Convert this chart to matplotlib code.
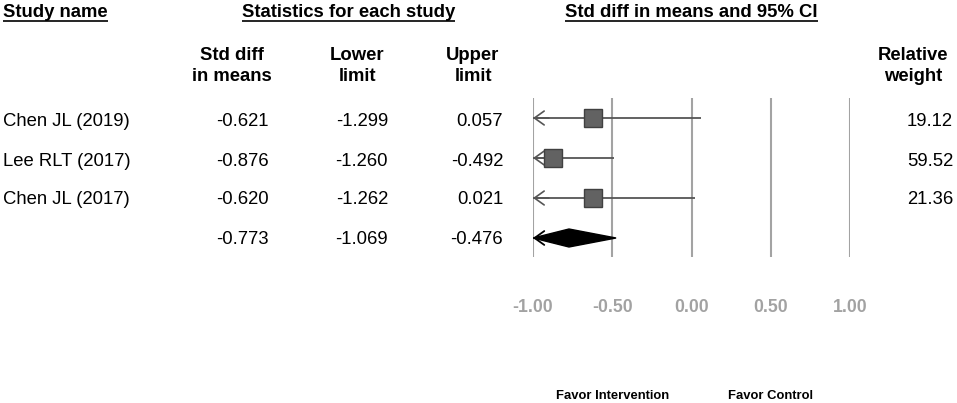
import matplotlib
matplotlib.use('Agg')
import matplotlib.pyplot as plt
from matplotlib.patches import Polygon

plt.rcParams['font.family'] = ['Liberation Sans', 'DejaVu Sans']

# data
studies = ['Chen JL (2019)', 'Lee RLT (2017)', 'Chen JL (2017)']
smd = [-0.621, -0.876, -0.620]
lower = [-1.299, -1.260, -1.262]
upper = [0.057, -0.492, 0.021]
weights = [19.12, 59.52, 21.36]
pooled = -0.773
pooled_lo = -1.069
pooled_hi = -0.476
ticks = [-1.0, -0.5, 0.0, 0.5, 1.0]

W, H = 957, 403
fig = plt.figure(figsize=(W / 100, H / 100), dpi=100)

# table area in pixel units
tab = fig.add_axes([0, 0, 1, 1])
tab.set_xlim(0, W)
tab.set_ylim(H, 0)
tab.axis('off')

# forest plot area
px0, px1 = 533, 850
py0, py1 = 98, 257
ax = fig.add_axes([px0 / W, 1 - py1 / H, (px1 - px0) / W, (py1 - py0) / H])
ax.set_xlim(-1, 1)
ax.set_ylim(3.475, -0.5)
ax.patch.set_alpha(0)
for s in ax.spines.values():
    s.set_visible(False)
ax.set_xticks([])
ax.set_yticks([])

for t in ticks:
    ax.axvline(t, color='#a3a3a3', lw=1.5, zorder=0)
    ax.text(t, (py1 - 312) / (py1 - py0), '%.2f' % t, transform=ax.get_xaxis_transform(),
            ha='center', va='baseline', fontsize=12.7, fontweight='bold', color='#a2a2a2')

arrow = '->,head_length=0.7,head_width=0.5'
for i in range(len(studies)):
    lo = max(lower[i], -1)
    ax.plot([lo, upper[i]], [i, i], color='#555555', lw=1.3, solid_capstyle='butt', zorder=2)
    if lower[i] < -1:
        ax.annotate('', xy=(-1, i), xytext=(-0.9, i),
                    arrowprops=dict(arrowstyle=arrow, color='#555555', lw=1.2,
                                    shrinkA=0, shrinkB=0, mutation_scale=10), zorder=2)
    ax.plot(smd[i], i, marker='s', ms=13, mfc='#626262', mec='#404040', mew=1, zorder=3)

r = len(studies)
h = 0.225
dia = Polygon([(max(pooled_lo, -1), r), (pooled, r - h), (pooled_hi, r), (pooled, r + h)],
              closed=True, fc='black', ec='black', lw=1, zorder=3)
ax.add_patch(dia)
if pooled_lo < -1:
    ax.annotate('', xy=(-1, r), xytext=(-0.9, r),
                arrowprops=dict(arrowstyle=arrow, color='black', lw=1.3,
                                shrinkA=0, shrinkB=0, mutation_scale=10), zorder=3)

for x, lab in zip([-0.5, 0.5], ['Favor Intervention', 'Favor Control']):
    ax.text(x, (py1 - 399) / (py1 - py0), lab, transform=ax.get_xaxis_transform(),
            ha='center', va='baseline', fontsize=9.4, fontweight='bold', color='black')

# headers
fs = 13.3
heads = []
heads.append(tab.text(3, 16.7, 'Study name', fontsize=fs, fontweight='bold', va='baseline'))
heads.append(tab.text(348.5, 16.7, 'Statistics for each study', fontsize=fs, fontweight='bold',
                      ha='center', va='baseline'))
heads.append(tab.text(691.5, 16.7, 'Std diff in means and 95% CI', fontsize=fs, fontweight='bold',
                      ha='center', va='baseline'))

col_heads = [('Std diff', 'in means', 232), ('Lower', 'limit', 357),
             ('Upper', 'limit', 473), ('Relative', 'weight', 913)]
for l1, l2, cx in col_heads:
    tab.text(cx, 60, l1, fontsize=fs, fontweight='bold', ha='center', va='baseline')
    tab.text(cx, 81, l2, fontsize=fs, fontweight='bold', ha='center', va='baseline')

# rows
row_base = [125.7, 165.7, 204.5]
for i, name in enumerate(studies):
    yb = row_base[i]
    tab.text(3, yb, name, fontsize=fs, va='baseline')
    tab.text(269, yb, '%.3f' % smd[i], fontsize=fs, ha='right', va='baseline')
    tab.text(388, yb, '%.3f' % lower[i], fontsize=fs, ha='right', va='baseline')
    tab.text(503, yb, '%.3f' % upper[i], fontsize=fs, ha='right', va='baseline')
    tab.text(953, yb, '%.2f' % weights[i], fontsize=fs, ha='right', va='baseline')

yb = 243.7
tab.text(269, yb, '%.3f' % pooled, fontsize=fs, ha='right', va='baseline')
tab.text(388, yb, '%.3f' % pooled_lo, fontsize=fs, ha='right', va='baseline')
tab.text(503, yb, '%.3f' % pooled_hi, fontsize=fs, ha='right', va='baseline')

# underline the section headers
fig.canvas.draw()
inv = tab.transData.inverted()
for t in heads:
    bb = t.get_window_extent()
    (xa, _), (xb, _) = inv.transform([(bb.x0, bb.y0), (bb.x1, bb.y0)])
    tab.plot([xa, xb], [21, 21], color='black', lw=1.2, solid_capstyle='butt')

fig.savefig('out.png', dpi=100)
